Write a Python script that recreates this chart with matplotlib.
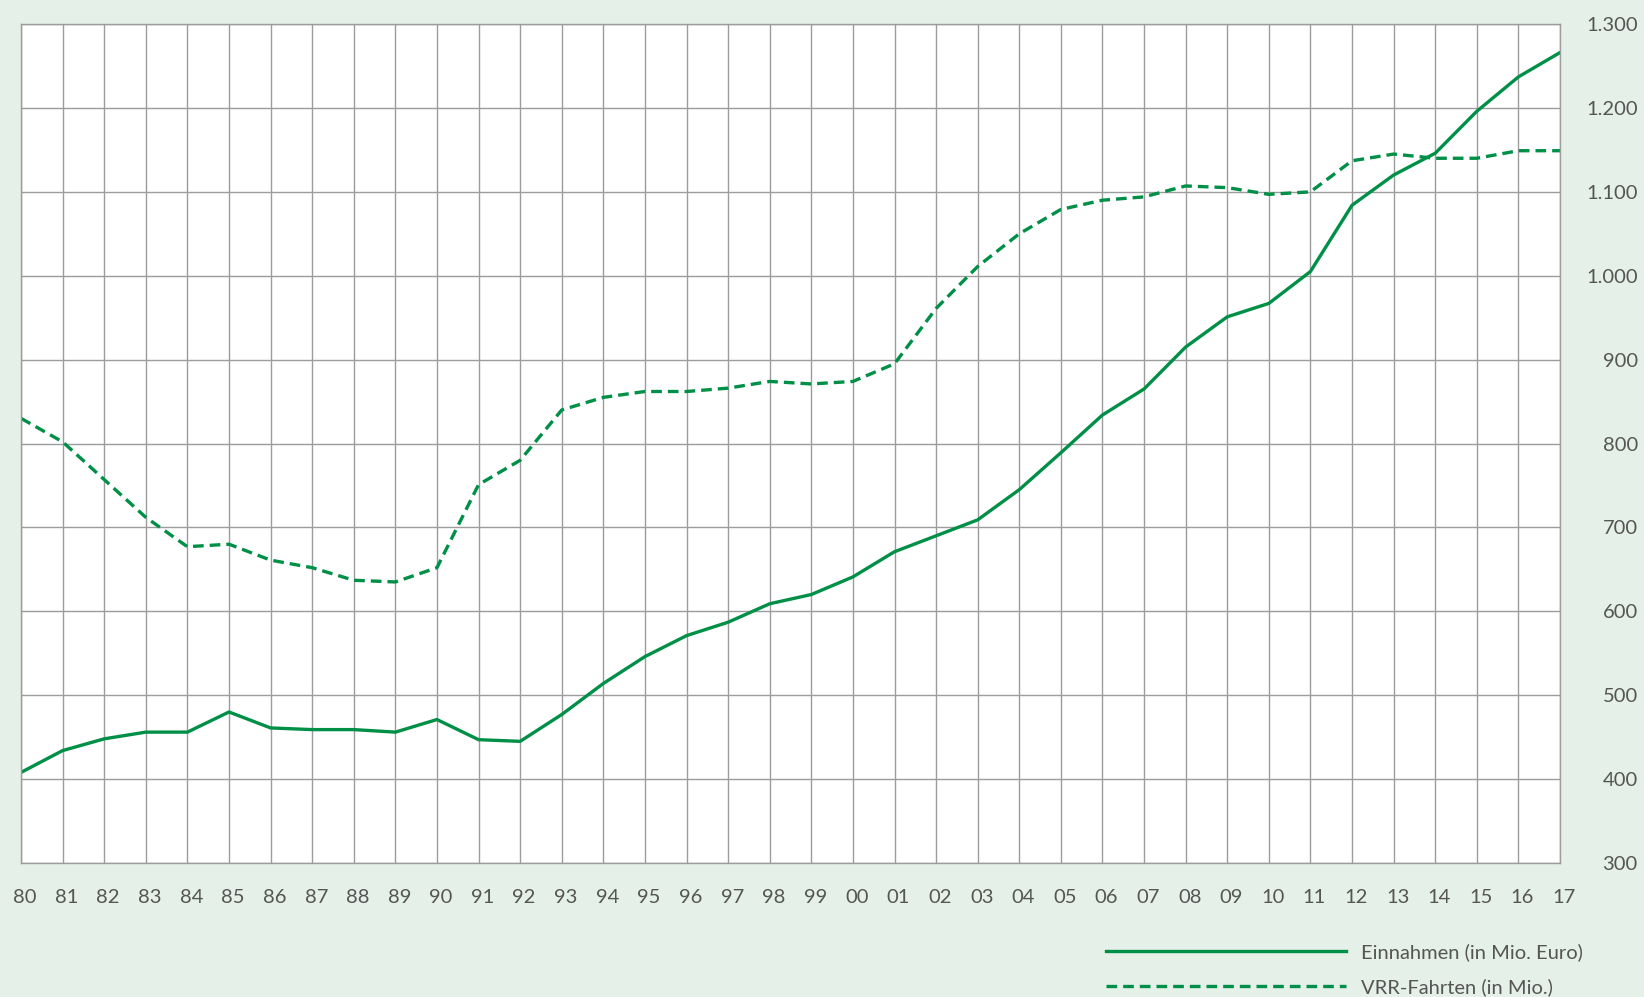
import matplotlib
matplotlib.use('Agg')
import matplotlib.pyplot as plt
import matplotlib.transforms as mtransforms
import numpy as np

years = ['80', '81', '82', '83', '84', '85', '86', '87', '88', '89',
         '90', '91', '92', '93', '94', '95', '96', '97', '98', '99',
         '00', '01', '02', '03', '04', '05', '06', '07', '08', '09',
         '10', '11', '12', '13', '14', '15', '16', '17']
einnahmen = [408, 434, 448, 456, 456, 480, 461, 459, 459, 456,
             471, 447, 445, 477, 514, 546, 571, 587, 609, 620,
             641, 671, 690, 709, 745, 789, 834, 865, 915, 951,
             967, 1005, 1084, 1120, 1146, 1196, 1237, 1266]
fahrten = [830, 802, 757, 712, 677, 680, 661, 652, 637, 635,
           652, 751, 780, 840, 855, 862, 862, 866, 874, 871,
           874, 895, 961, 1011, 1050, 1079, 1090, 1094, 1107, 1105,
           1097, 1100, 1137, 1145, 1140, 1140, 1149, 1149]
yticks = np.arange(300, 1301, 100)

green = '#008F47'
bg = '#E5F0E8'
grid = '#9C9C9C'
textc = '#555555'
plt.rcParams['font.family'] = ['Lato', 'DejaVu Sans']

x = np.arange(len(years))

fig = plt.figure(figsize=(16.44, 9.97), dpi=100, facecolor=bg)
ax = fig.add_axes([0.0128, 0.1344, 0.9361, 0.8415])
ax.set_facecolor('white')

l1, = ax.plot(x, einnahmen, color=green, lw=2.4, label='Einnahmen (in Mio. Euro)')
l2, = ax.plot(x, fahrten, color=green, lw=2.4, linestyle=(0, (3.2, 1.8)),
              label='VRR-Fahrten (in Mio.)')

ax.set_xlim(0, len(years) - 1)
ax.set_ylim(300, 1300)
ax.set_xticks(x)
ax.set_xticklabels(years)
ax.set_yticks(yticks)
ax.set_yticklabels(['{:,}'.format(v).replace(',', '.') for v in yticks])
ax.yaxis.tick_right()
ax.tick_params(axis='both', length=0, colors=textc, labelsize=14.5)
ax.tick_params(axis='x', pad=19)
ax.tick_params(axis='y', pad=56)
for lab in ax.get_yticklabels():
    lab.set_ha('right')

# year labels sit a little right of their gridline in the original
shift = mtransforms.ScaledTranslation(4 / 100, 0, fig.dpi_scale_trans)
for lab in ax.get_xticklabels():
    lab.set_transform(lab.get_transform() + shift)

ax.grid(True, color=grid, lw=1.0)
ax.set_axisbelow(True)
for s in ax.spines.values():
    s.set_color(grid)
    s.set_linewidth(1.0)

fig.legend(handles=[l1, l2], loc='lower left', bbox_to_anchor=(0.662, -0.017),
           frameon=False, handlelength=11.9, fontsize=14.5, labelcolor=textc,
           handletextpad=0.73, labelspacing=0.85)

fig.savefig('out.png', dpi=100, facecolor=bg)
